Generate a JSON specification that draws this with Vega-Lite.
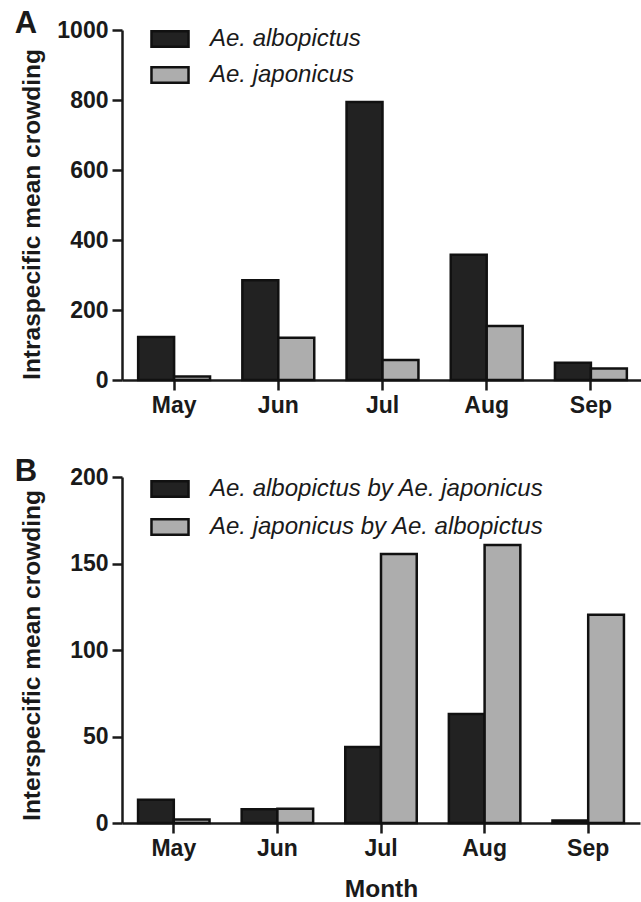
{
  "$schema": "https://vega.github.io/schema/vega-lite/v6.json",
  "background": "white",
  "padding": {"left": 14, "top": 8, "right": 0, "bottom": 0},
  "spacing": 39,
  "config": {
    "view": {"stroke": null},
    "scale": {"offsetBandPaddingInner": 0, "offsetBandPaddingOuter": 0},
    "axis": {
      "domainColor": "#1a1a1a", "domainWidth": 2.5,
      "tickColor": "#1a1a1a", "tickWidth": 2.5, "tickSize": 10,
      "labelFont": "Liberation Sans", "labelFontWeight": "bold", "labelFontSize": 23, "labelColor": "#1a1a1a",
      "titleFont": "Liberation Sans", "titleFontWeight": "bold", "titleFontSize": 24.5, "titleColor": "#1a1a1a",
      "grid": false
    },
    "legend": {
      "labelFont": "Liberation Sans", "labelFontStyle": "italic", "labelFontSize": 24, "labelColor": "#1a1a1a",
      "symbolType": "M-0.95,-0.4H0.95V0.4H-0.95Z", "symbolSize": 1521, "symbolStrokeWidth": 2.5, "symbolStrokeColor": "#111",
      "labelLimit": 500, "labelOffset": 19
    },
    "title": {"font": "Liberation Sans", "fontWeight": "bold", "fontSize": 31, "color": "#1a1a1a", "anchor": "start", "frame": "bounds"}
  },
  "vconcat": [
    {
      "title": {"text": "A", "dx": -5, "offset": -22},
      "width": 521,
      "height": 350,
      "data": {"values": [
        {"month": "May", "species": "Ae. albopictus", "value": 123},
        {"month": "May", "species": "Ae. japonicus", "value": 10},
        {"month": "Jun", "species": "Ae. albopictus", "value": 285},
        {"month": "Jun", "species": "Ae. japonicus", "value": 121},
        {"month": "Jul", "species": "Ae. albopictus", "value": 794},
        {"month": "Jul", "species": "Ae. japonicus", "value": 57},
        {"month": "Aug", "species": "Ae. albopictus", "value": 358},
        {"month": "Aug", "species": "Ae. japonicus", "value": 154},
        {"month": "Sep", "species": "Ae. albopictus", "value": 49},
        {"month": "Sep", "species": "Ae. japonicus", "value": 33}
      ]},
      "mark": {"type": "bar", "stroke": "#111", "strokeWidth": 2.5},
      "encoding": {
        "x": {"field": "month", "type": "nominal", "sort": ["May", "Jun", "Jul", "Aug", "Sep"],
              "scale": {"paddingInner": 0.31, "paddingOuter": 0.155},
              "axis": {"title": null, "labelAngle": 0, "labelPadding": 4}},
        "xOffset": {"field": "species", "type": "nominal", "sort": ["Ae. albopictus", "Ae. japonicus"],
                    "scale": {"paddingInner": 0, "paddingOuter": 0}},
        "y": {"field": "value", "type": "quantitative", "scale": {"domain": [0, 1000]},
              "axis": {"values": [0, 200, 400, 600, 800, 1000], "format": "d", "title": "Intraspecific mean crowding", "labelPadding": 4, "titlePadding": 12, "titleY": 184}},
        "color": {"field": "species", "type": "nominal",
                  "scale": {"domain": ["Ae. albopictus", "Ae. japonicus"], "range": ["#222222", "#adadad"]},
                  "legend": {"title": null, "orient": "none", "legendX": 27, "legendY": -12, "rowPadding": 2}}
      }
    },
    {
      "title": {"text": "B", "dx": -5, "offset": -22},
      "width": 518,
      "height": 346,
      "data": {"values": [
        {"month": "May", "species": "Ae. albopictus by Ae. japonicus", "value": 13.5},
        {"month": "May", "species": "Ae. japonicus by Ae. albopictus", "value": 2},
        {"month": "Jun", "species": "Ae. albopictus by Ae. japonicus", "value": 8},
        {"month": "Jun", "species": "Ae. japonicus by Ae. albopictus", "value": 8.3},
        {"month": "Jul", "species": "Ae. albopictus by Ae. japonicus", "value": 44},
        {"month": "Jul", "species": "Ae. japonicus by Ae. albopictus", "value": 155.5},
        {"month": "Aug", "species": "Ae. albopictus by Ae. japonicus", "value": 63},
        {"month": "Aug", "species": "Ae. japonicus by Ae. albopictus", "value": 160.7},
        {"month": "Sep", "species": "Ae. albopictus by Ae. japonicus", "value": 1.5},
        {"month": "Sep", "species": "Ae. japonicus by Ae. albopictus", "value": 120.4}
      ]},
      "mark": {"type": "bar", "stroke": "#111", "strokeWidth": 2.5},
      "encoding": {
        "x": {"field": "month", "type": "nominal", "sort": ["May", "Jun", "Jul", "Aug", "Sep"],
              "scale": {"paddingInner": 0.31, "paddingOuter": 0.155},
              "axis": {"title": "Month", "titlePadding": 17, "labelAngle": 0, "labelPadding": 4}},
        "xOffset": {"field": "species", "type": "nominal", "sort": ["Ae. albopictus by Ae. japonicus", "Ae. japonicus by Ae. albopictus"],
                    "scale": {"paddingInner": 0, "paddingOuter": 0}},
        "y": {"field": "value", "type": "quantitative", "scale": {"domain": [0, 200]},
              "axis": {"values": [0, 50, 100, 150, 200], "title": "Interspecific mean crowding", "labelPadding": 4, "titlePadding": 25, "titleY": 178}},
        "color": {"field": "species", "type": "nominal",
                  "scale": {"domain": ["Ae. albopictus by Ae. japonicus", "Ae. japonicus by Ae. albopictus"], "range": ["#222222", "#adadad"]},
                  "legend": {"title": null, "orient": "none", "legendX": 27, "legendY": -9, "rowPadding": 4}}
      }
    }
  ],
  "resolve": {"scale": {"color": "independent", "x": "independent", "xOffset": "independent", "y": "independent"}}
}
